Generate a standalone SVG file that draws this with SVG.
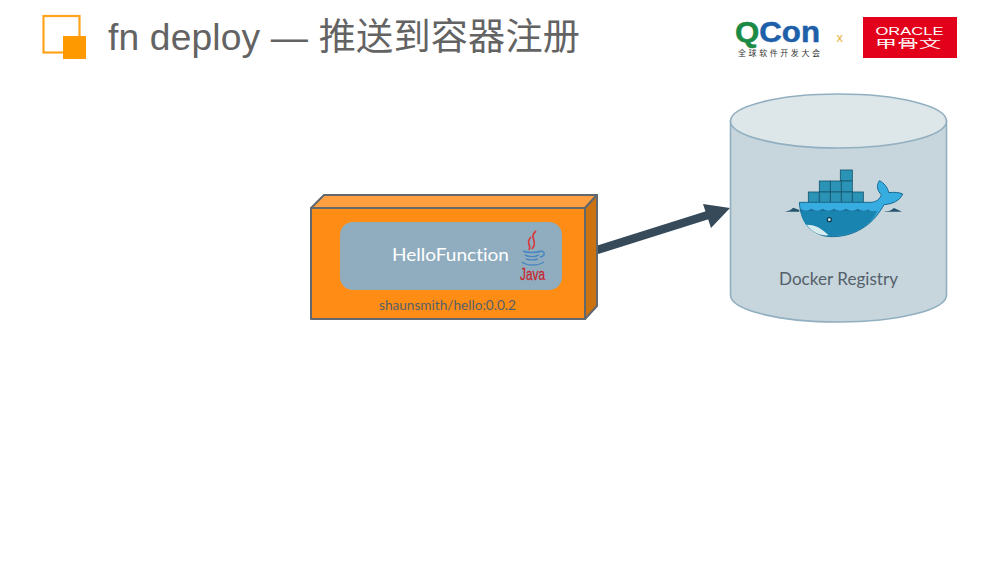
<svg xmlns="http://www.w3.org/2000/svg" width="1000" height="563" viewBox="0 0 1000 563">
<style>
.s{font-family:"Lato","Open Sans","Noto Sans",sans-serif;font-variant-ligatures:none}
.a{font-family:"Liberation Sans","Noto Sans CJK SC",sans-serif}
.c{font-family:"Noto Sans CJK SC",sans-serif}
.box{fill:#2b93b5;stroke:#17566e;stroke-width:2.500}
.edge{stroke:#62686e;stroke-width:2;stroke-linejoin:round}
.cyl{stroke:#92afc0;stroke-width:1.600}
</style>
<rect width="1000" height="563" fill="#fff"/>
<g id="header">
<rect x="43.500" y="16" width="36" height="36.500" fill="none" stroke="#ffa41c" stroke-width="2.200"/>
<rect x="63" y="36" width="23" height="23" fill="#ff9900"/>
<text x="108" y="50" class="a" font-size="37.200" fill="#636363" textLength="472">fn deploy — 推送到容器注册</text>
</g>
<g id="logos">
<text x="735" y="42" class="a" font-size="30" font-weight="700" fill="#1d5fa8" stroke="#1d5fa8" stroke-width=".5" textLength="85" lengthAdjust="spacingAndGlyphs"><tspan fill="#1a8a45" stroke="#1a8a45">Q</tspan>Con</text>
<text x="738" y="56" class="c" font-size="8" fill="#333" textLength="82">全球软件开发大会</text>
<text x="836.500" y="42" class="a" font-size="13" fill="#e8b23a">x</text>
<rect x="863" y="17" width="94" height="41" fill="#e2001a"/>
<text x="875.500" y="35" class="a" font-size="10" fill="#fff" textLength="68" lengthAdjust="spacingAndGlyphs">ORACLE</text>
<text x="875" y="48" class="c" font-size="11" fill="#fff" textLength="66" lengthAdjust="spacingAndGlyphs">甲骨文</text>
</g>
<g id="connectors">
<path d="M597 250L708 215" fill="none" stroke="#364a5a" stroke-width="8.500"/>
<polygon points="730,208 703,204 711,228" fill="#364a5a"/>
</g>
<g id="function-image">
<polygon class="edge" points="311,208 324,195 597,195 585,208" fill="#ffa040"/>
<polygon class="edge" points="585,208 597,195 597,306 585,319" fill="#cc7311"/>
<rect class="edge" x="311" y="208" width="274" height="111" fill="#ff8c14"/>
<rect x="340" y="222" width="222" height="68" rx="13" fill="#8fadbf"/>
<text x="392" y="261" class="s" font-size="18" fill="#fff" textLength="117" lengthAdjust="spacingAndGlyphs">HelloFunction</text>
<g id="java-logo" fill="none">
<path d="M536 231C528 238 539 241 532 249M531 237C525 243 532 245 529 250" stroke="#d8383a" stroke-width="1.700"/>
<path d="M523 251C527 253 537 253 541 251M525 255C529 257 535 257 539 255M526 259C530 260 535 260 538 259M541 251C546 252 545 256 540 257" stroke="#4a86bf" stroke-width="1.400"/>
<path d="M522 262C527 266 538 266 544 262" stroke="#4a86bf" stroke-width="1.400"/>
<text x="520" y="280" class="a" font-size="17" fill="#c8262c" stroke="#c8262c" stroke-width=".3" textLength="25" lengthAdjust="spacingAndGlyphs">Java</text>
</g>
<text x="379" y="310" class="s" font-size="13" fill="#55606a" textLength="137" lengthAdjust="spacingAndGlyphs">shaunsmith/hello:0.0.2</text>
</g>
<g id="docker-registry">
<path class="cyl" d="M730.500 121V295A108 27 0 0 0 946.500 295V121Z" fill="#c6d6dc"/>
<ellipse class="cyl" cx="838.500" cy="121" rx="108" ry="27" fill="#dde6e9"/>
<g id="docker-logo" transform="translate(770 160) scale(.33333)">
<rect class="box" x="211" y="30" width="36" height="33"/>
<rect class="box" x="148" y="63" width="33" height="33"/>
<rect class="box" x="181" y="63" width="33" height="33"/>
<rect class="box" x="214" y="63" width="33" height="33"/>
<rect class="box" x="115" y="96" width="33" height="31"/>
<rect class="box" x="148" y="96" width="33" height="31"/>
<rect class="box" x="181" y="96" width="33" height="31"/>
<rect class="box" x="214" y="96" width="33" height="31"/>
<rect class="box" x="247" y="96" width="33" height="31"/>
<path d="M88 127H300C318 127 330 118 334 104C322 92 318 78 328 62C342 68 354 84 356 98C372 96 388 97 398 102C390 122 368 132 342 134C316 182 268 228 190 230C130 232 92 190 88 127Z" fill="#36ace0" stroke="#176a93" stroke-width="3"/>
<path d="M91 146C102 154 112 154 124 146C136 154 148 154 158 146C170 154 182 154 192 146C204 154 216 154 228 146C240 154 252 154 264 146C276 154 288 154 298 147V153H91Z" fill="#1d6f99"/>
<path d="M91 153H322C300 200 250 226 190 228C130 230 98 196 91 153Z" fill="#1a84b0"/>
<path d="M110 194C138 194 158 208 176 226C150 228 126 216 110 194Z" fill="#d7ebee"/>
<circle cx="178" cy="179" r="8" fill="#123f57"/><circle cx="178" cy="179" r="4" fill="#d8f0f4"/>
<path d="M45 155H88V150L70 143L60 151ZM340 155H396L372 144L360 152Z" fill="#26566d"/>
</g>
<text x="779" y="285" class="s" font-size="16.500" fill="#55606a" textLength="119" lengthAdjust="spacingAndGlyphs">Docker Registry</text>
</g>
</svg>
